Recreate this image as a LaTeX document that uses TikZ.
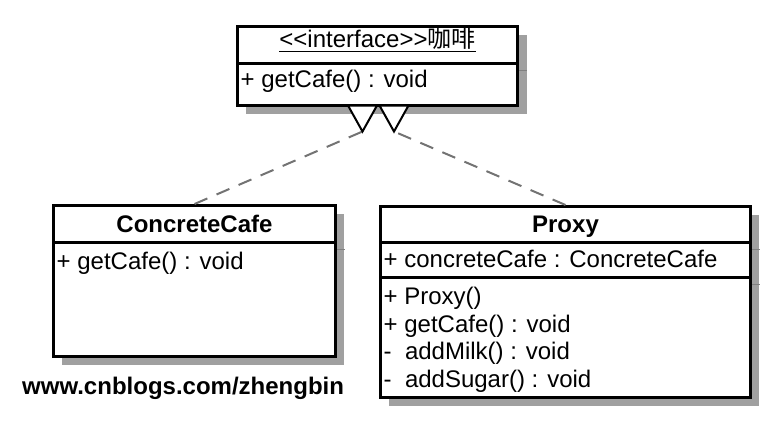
\documentclass[tikz,border=0pt]{standalone}
\usepackage{fontspec}
\setmainfont{Liberation Sans}
\newfontfamily\cjk{Noto Sans CJK SC}
\definecolor{shadowgray}{RGB}{160,160,160}

\tikzset{
  umlpart/.style={draw, line width=3pt, fill=white, inner sep=0pt},
  shadowbox/.style={fill=shadowgray, draw=none},
  classname/.style={font=\fontsize{24}{27.5}\selectfont\bfseries, inner sep=0pt},
  members/.style={font=\fontsize{24}{27.5}\selectfont, align=left, inner sep=0pt},
  sepline/.style={black!50, line width=1pt},
  realize/.style={black!55, line width=2pt, dash pattern=on 14pt off 10pt},
  hollowtri/.style={draw=black, fill=white, line width=2pt, line join=miter},
  watermark/.style={font=\fontsize{24}{27.5}\selectfont\bfseries, inner sep=0pt}
}

\begin{document}
\begin{tikzpicture}[x=1pt,y=-1pt]
 \useasboundingbox (0,0) rectangle (776,426);
 % shadows
 \path[shadowbox] (246,35) rectangle (527,114);
 \path[shadowbox] (62,214) rectangle (344,365);
 \path[shadowbox] (389,215) rectangle (759,406);
 % interface
 \node[umlpart, minimum width=280pt, minimum height=37pt, anchor=north west] (ifHead) at (236,25) {};
 \node[umlpart, minimum width=280pt, minimum height=42pt, anchor=north] (ifOps) at ([yshift=3pt]ifHead.south) {};
 \node[classname, font=\fontsize{24}{27.5}\selectfont, anchor=base] (ifName) at ([yshift=17.5pt]ifHead.south) {\underline{<{}<interface>{}>{\cjk 咖啡}}};
 \node[members, anchor=base west] (ifOpList) at ([xshift=4.5pt,yshift=-25.5pt]ifOps.north west) {+ getCafe() : void};
 % ConcreteCafe
 \node[umlpart, minimum width=282pt, minimum height=37pt, anchor=north west] (ccHead) at (52,204) {};
 \node[umlpart, minimum width=282pt, minimum height=114pt, anchor=north] (ccOps) at ([yshift=3pt]ccHead.south) {};
 \node[classname, anchor=base] (ccName) at ([yshift=11.5pt]ccHead.south) {ConcreteCafe};
 \node[members, anchor=base west] (ccOpList) at ([xshift=4.5pt,yshift=-28.5pt]ccOps.north west) {+ getCafe() : void};
 % Proxy
 \node[umlpart, minimum width=370pt, minimum height=36pt, anchor=north west] (pxHead) at (379,205) {};
 \node[umlpart, minimum width=370pt, minimum height=35pt, anchor=north] (pxAttr) at ([yshift=3pt]pxHead.south) {};
 \node[umlpart, minimum width=370pt, minimum height=120pt, anchor=north] (pxOps) at ([yshift=3pt]pxAttr.south) {};
 \node[classname, anchor=base] (pxName) at ([yshift=11.5pt]pxHead.south) {Proxy};
 \node[members, anchor=base west] (pxAttrList) at ([xshift=4.5pt,yshift=-26.5pt]pxAttr.north west) {+ concreteCafe : ConcreteCafe};
 \node[members, anchor=base west] (pxOpList) at ([xshift=4.5pt,yshift=-111pt]pxOps.north west)
   {+ Proxy()\\+ getCafe() : void\\-\ \ addMilk() : void\\-\ \ addSugar() : void};
 % shadow seams
 \foreach \part in {ifHead,ccHead,pxHead,pxAttr}
   \draw[sepline] ([yshift=-5.5pt]\part.south east) -- ++(8,0);
 % realization
 \coordinate (tipL) at ([xshift=-15pt,yshift=-24.5pt]ifOps.south);
 \coordinate (tipR) at ([xshift=16.5pt,yshift=-24.5pt]ifOps.south);
 \draw[realize] (ccHead.north) -- (tipL);
 \draw[realize] (pxHead.north) -- (tipR);
 \foreach \tip in {tipL,tipR}
   \draw[hollowtri] (\tip) -- ++(-14.5,-26) -- ++(29,0) -- cycle;
 \node[watermark, anchor=west] (site) at (22,388) {www.cnblogs.com/zhengbin};
\end{tikzpicture}
\end{document}
